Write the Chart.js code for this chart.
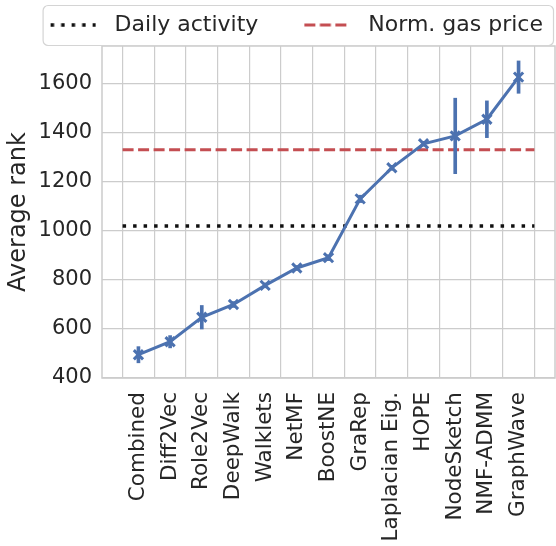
<!DOCTYPE html>
<html>
<head>
<meta charset="utf-8">
<script src="https://cdn.jsdelivr.net/npm/chart.js"></script>
<style>
  html, body { margin: 0; padding: 0; background: #fff; }
</style>
</head>
<body>
<canvas id="graficoRank" width="556" height="546"></canvas>
<script>
// dados
const methods = ["Combined", "Diff2Vec", "Role2Vec", "DeepWalk", "Walklets", "NetMF", "BoostNE",
                 "GraRep", "Laplacian Eig.", "HOPE", "NodeSketch", "NMF-ADMM", "GraphWave"];
const avgRank = [495, 548, 648, 700, 778, 849, 891, 1131, 1258, 1356, 1388, 1456, 1628];
const rankError = [33, 25, 48, 12, 10, 10, 12, 15, 10, 10, 154, 75, 66];
const dailyActivity = 1020;
const gasPrice = 1332;
const yTicks = [400, 600, 800, 1000, 1200, 1400, 1600];

const azul = "#4c72b0";
const vermelho = "#c44e52";
const preto = "#111111";
const cinza = "#cccccc";
const texto = "#262626";

Chart.defaults.font.family = "'DejaVu Sans', sans-serif";

// amostra da legenda: linha tracejada dentro de uma caixa de 87px
function swatch(cor, largura, dash) {
    const c = document.createElement("canvas");
    c.width = 87;
    c.height = 8;
    const g = c.getContext("2d");
    g.strokeStyle = cor;
    g.lineWidth = largura;
    g.setLineDash(dash);
    g.beginPath();
    g.moveTo(34, 4);
    g.lineTo(79, 4);
    g.stroke();
    return c;
}
const swatches = {
    "Daily activity": swatch(preto, 3.5, [3.5, 7]),
    "Norm. gas price": swatch(vermelho, 3, [11, 4.5])
};

// moldura do gráfico e caixa da legenda
const moldura = {
    id: "moldura",
    beforeDatasetsDraw(chart) {
        const a = chart.chartArea;
        const ctx = chart.ctx;
        ctx.save();
        ctx.strokeStyle = cinza;
        ctx.lineWidth = 1.5;
        ctx.strokeRect(a.left, a.top, a.right - a.left, a.bottom - a.top);
        ctx.restore();
    },
    afterDraw(chart) {
        const boxes = chart.legend.legendHitBoxes;
        if (!boxes || !boxes.length) return;
        const first = boxes[0];
        const last = boxes[boxes.length - 1];
        const x0 = first.left + 34 - 8;
        const x1 = last.left + last.width + 10;
        const y0 = first.top - 9;
        const y1 = first.top + first.height + 9;
        const ctx = chart.ctx;
        ctx.save();
        ctx.strokeStyle = "#d4d4d4";
        ctx.lineWidth = 1.2;
        ctx.beginPath();
        ctx.roundRect(x0 + 0.5, y0 + 0.5, x1 - x0, y1 - y0, 5);
        ctx.stroke();
        ctx.restore();
    }
};

const ctxRank = document.getElementById("graficoRank").getContext("2d");
const rankChart = new Chart(ctxRank, {
    type: "line",
    data: {
        datasets: [{
            label: "Average rank",
            data: methods.map((m, i) => ({ x: i, y: avgRank[i] })),
            borderColor: azul,
            backgroundColor: azul,
            borderWidth: 3,
            tension: 0,
            pointStyle: "crossRot",
            pointRadius: 6.5,
            pointBorderWidth: 3,
            pointBorderColor: azul
        }, {
            type: "bar",
            label: "error",
            data: methods.map((m, i) => ({ x: i, y: [avgRank[i] - rankError[i], avgRank[i] + rankError[i]] })),
            backgroundColor: azul,
            borderWidth: 0,
            barThickness: 3
        }, {
            label: "Daily activity",
            data: [{ x: -0.5, y: dailyActivity }, { x: methods.length - 0.5, y: dailyActivity }],
            borderColor: preto,
            borderWidth: 3.5,
            borderDash: [3.5, 7],
            pointRadius: 0
        }, {
            label: "Norm. gas price",
            data: [{ x: -0.5, y: gasPrice }, { x: methods.length - 0.5, y: gasPrice }],
            borderColor: vermelho,
            borderWidth: 3,
            borderDash: [11, 4.5],
            pointRadius: 0
        }]
    },
    options: {
        responsive: false,
        animation: false,
        devicePixelRatio: 1,
        layout: { autoPadding: false, padding: { top: 2, bottom: 0, right: 1 } },
        scales: {
            x: {
                type: "linear",
                min: -1.15,
                max: methods.length - 1 + 1.15,
                offset: false,
                afterBuildTicks: function (axis) {
                    axis.ticks = methods.map((m, i) => ({ value: i }));
                },
                afterFit: function (scale) {
                    scale.paddingLeft = 0;
                    scale.paddingRight = 0;
                    scale.height = 168; // área do eixo x
                },
                ticks: {
                    autoSkip: false,
                    minRotation: 90,
                    maxRotation: 90,
                    padding: 14,
                    color: texto,
                    font: { size: 21.5 },
                    callback: function (value) { return methods[value]; }
                },
                grid: { color: cinza, lineWidth: 1.2, drawTicks: false },
                border: { display: false }
            },
            y: {
                min: 400,
                max: 1755,
                afterBuildTicks: function (axis) {
                    axis.ticks = yTicks.map(v => ({ value: v }));
                },
                afterFit: function (scale) {
                    scale.width = 102; // largura do eixo y
                },
                ticks: {
                    padding: 10,
                    color: texto,
                    font: { size: 21 },
                    callback: function (value) { return String(value); }
                },
                grid: { color: cinza, lineWidth: 1.2, drawTicks: false },
                border: { display: false },
                title: {
                    display: true,
                    text: "Average rank",
                    color: texto,
                    font: { size: 24 },
                    padding: { top: 4, bottom: 4 }
                }
            }
        },
        plugins: {
            tooltip: { enabled: false },
            legend: {
                position: "top",
                align: "end",
                labels: {
                    usePointStyle: true,
                    pointStyleWidth: 87,
                    padding: 12,
                    color: texto,
                    font: { size: 22 },
                    generateLabels: function (chart) {
                        return chart.data.datasets
                            .map((ds, i) => ({
                                text: ds.label,
                                datasetIndex: i,
                                pointStyle: swatches[ds.label],
                                fillStyle: ds.borderColor,
                                strokeStyle: ds.borderColor,
                                lineWidth: 0,
                                fontColor: texto,
                                hidden: false
                            }))
                            .filter(item => item.pointStyle);
                    }
                }
            }
        }
    },
    plugins: [moldura]
});
</script>
</body>
</html>
